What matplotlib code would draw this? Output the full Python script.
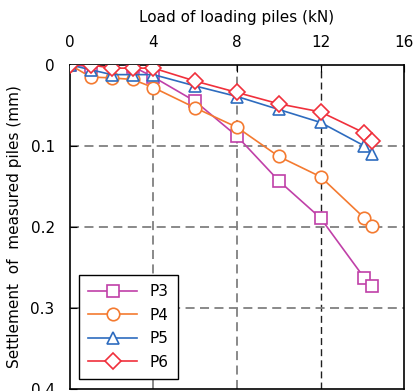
import matplotlib
matplotlib.use("Agg")
import matplotlib.pyplot as plt

# load (kN) and settlement (mm)
x_p3 = [0, 1, 2, 3, 4, 6, 8, 10, 12, 14.1, 14.45]
y_p3 = [0, 0.002, -0.005, 0.002, 0.015, 0.045, 0.088, 0.143, 0.189, 0.263, 0.273]

x_p4 = [0, 1, 2, 3, 4, 6, 8, 10, 12, 14.1, 14.45]
y_p4 = [0, 0.015, 0.016, 0.018, 0.028, 0.053, 0.077, 0.113, 0.138, 0.189, 0.199]

x_p5 = [0, 1, 2, 3, 4, 6, 8, 10, 12, 14.1, 14.45]
y_p5 = [0, 0.006, 0.012, 0.012, 0.012, 0.026, 0.039, 0.055, 0.071, 0.100, 0.110]

x_p6 = [0, 1, 2, 3, 4, 6, 8, 10, 12, 14.1, 14.45]
y_p6 = [0, 0, 0.004, 0.004, 0.004, 0.020, 0.034, 0.048, 0.058, 0.084, 0.094]

x_ticks = [0, 4, 8, 12, 16]
y_ticks = [0, 0.1, 0.2, 0.3, 0.4]
y_ticklabels = ["0", "0.1", "0.2", "0.3", "0.4"]

fig = plt.figure(figsize=(4.14, 3.91), dpi=100)
ax = fig.add_axes([0.169, 0.005, 0.807, 0.829])

# grid lines
for gx in [4, 8]:
    ax.axvline(gx, color="#808080", ls=(0, (5, 3)), lw=1.3, zorder=1)
ax.axvline(12, color="#202020", ls=(0, (5, 3)), lw=1.0, zorder=1)
for gy in [0.1, 0.2, 0.3]:
    ax.axhline(gy, color="#808080", ls=(0, (5, 3)), lw=1.3, zorder=1)

style = dict(lw=1.2, ms=9, mfc="white", mew=1.2, zorder=3)
ax.plot(x_p3, y_p3, marker="s", color="#C040A8", label="P3", **style)
ax.plot(x_p4, y_p4, marker="o", color="#F47A30", label="P4", **style)
ax.plot(x_p5, y_p5, marker="^", color="#2E6CBF", label="P5", **style)
ax.plot(x_p6, y_p6, marker="D", color="#F0303C", label="P6", ms=8, lw=1.2,
        mfc="white", mew=1.2, zorder=4)

ax.set_xlim(0, 16)
ax.set_ylim(0.4, 0)
ax.xaxis.tick_top()
ax.xaxis.set_label_position("top")
ax.set_xticks(x_ticks)
ax.set_yticks(y_ticks)
ax.set_yticklabels(y_ticklabels)
ax.tick_params(direction="in", length=5, labelsize=11, colors="black")
ax.tick_params(axis="x", pad=11)
ax.tick_params(axis="y", pad=11)
ax.set_xlabel("Load of loading piles (kN)", fontsize=11, labelpad=9)
ax.set_ylabel("Settlement  of  measured piles (mm)", fontsize=11, labelpad=6)
for s in ax.spines.values():
    s.set_linewidth(1.2)

leg = ax.legend(loc="lower left", bbox_to_anchor=(0.005, 0.008), fontsize=11,
                fancybox=False, framealpha=1, edgecolor="black",
                handlelength=3.2, borderpad=0.6, labelspacing=0.55)
leg.get_frame().set_linewidth(1.0)

fig.savefig("out.png", dpi=100)
